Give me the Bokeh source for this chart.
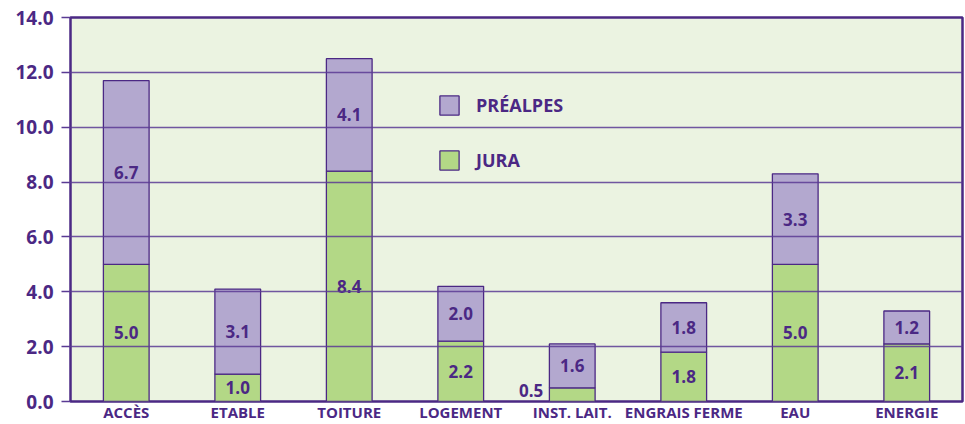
from bokeh.plotting import figure
from bokeh.models import (ColumnDataSource, Range1d, FactorRange, Legend, LegendItem,
                          PrintfTickFormatter, FixedTicker)
from bokeh.embed import file_html
from bokeh.resources import INLINE
from bokeh.core.properties import value

categories = ["Accès", "Etable", "Toiture", "Logement", "Inst. Lait.", "Engrais Ferme", "Eau", "Energie"]
tick_labels = ["ACCÈS", "ETABLE", "TOITURE", "LOGEMENT", "INST. LAIT.", "ENGRAIS FERME", "EAU", "ENERGIE"]
jura = [5.0, 1.0, 8.4, 2.2, 0.5, 1.8, 5.0, 2.1]
prealpes = [6.7, 3.1, 4.1, 2.0, 1.6, 1.8, 3.3, 1.2]
y_ticks = [0, 2, 4, 6, 8, 10, 12, 14]

PURPLE = "#4B2884"
GREEN = "#B3D886"
LAV = "#B3A8CF"
BG = "#EBF3E1"
FONT = "Open Sans"

totals = [j + p for j, p in zip(jura, prealpes)]
src = ColumnDataSource(dict(
    cat=tick_labels, jura=jura, prealpes=prealpes, total=totals,
    zero=[0] * len(categories),
    pre_mid=[j + p / 2 for j, p in zip(jura, prealpes)],
    pre_txt=["%.1f" % v for v in prealpes],
))

p = figure(width=965, height=424, x_range=FactorRange(*tick_labels), y_range=Range1d(0, 14),
           output_backend="svg", toolbar_location=None,
           min_border_left=70, min_border_right=3, min_border_top=17, min_border_bottom=21)
p.background_fill_color = BG
p.border_fill_color = "white"
p.outline_line_color = PURPLE
p.outline_line_width = 2.5

r_j = p.vbar(x="cat", bottom="zero", top="jura", width=0.41, source=src,
             fill_color=GREEN, line_color=PURPLE, line_width=1.3)
r_p = p.vbar(x="cat", bottom="jura", top="total", width=0.41, source=src,
             fill_color=LAV, line_color=PURPLE, line_width=1.3)

# value labels
big = ColumnDataSource(dict(cat=[c for c, j in zip(tick_labels, jura) if j >= 0.8],
                            y=[j / 2 for j in jura if j >= 0.8],
                            t=["%.1f" % j for j in jura if j >= 0.8]))
small = ColumnDataSource(dict(cat=[c for c, j in zip(tick_labels, jura) if j < 0.8],
                              y=[j / 2 for j in jura if j < 0.8],
                              t=["%.1f" % j for j in jura if j < 0.8]))
p.text(x="cat", y="y", text="t", source=big, text_align="center", text_baseline="middle",
       text_font=value(FONT), text_font_style="bold", text_font_size="17px", text_color=PURPLE)
p.text(x="cat", y="y", text="t", source=small, text_align="right", text_baseline="middle",
       x_offset=-29, y_offset=-4,
       text_font=value(FONT), text_font_style="bold", text_font_size="17px", text_color=PURPLE)
p.text(x="cat", y="pre_mid", text="pre_txt", source=src, text_align="center", text_baseline="middle",
       text_font=value(FONT), text_font_style="bold", text_font_size="17px", text_color=PURPLE)

# grid over bars
p.xgrid.grid_line_color = None
p.ygrid.ticker = FixedTicker(ticks=y_ticks)
p.ygrid.grid_line_color = "#5A3A94"
p.ygrid.grid_line_width = 1.5
p.ygrid.grid_line_alpha = 0.85
p.ygrid.level = "annotation"

# y axis
ya = p.yaxis[0]
ya.ticker = FixedTicker(ticks=y_ticks)
ya.formatter = PrintfTickFormatter(format="%.1f")
ya.axis_line_color = None
ya.major_tick_line_color = "#5A3A94"
ya.major_tick_line_width = 1.5
ya.major_tick_out = 9
ya.major_tick_in = 0
ya.minor_tick_line_color = None
ya.major_label_standoff = 8
ya.major_label_text_font = FONT
ya.major_label_text_font_style = "bold"
ya.major_label_text_font_size = "19px"
ya.major_label_text_color = PURPLE

# x axis
xa = p.xaxis[0]
xa.axis_line_color = None
xa.major_tick_line_color = None
xa.major_tick_out = 0
xa.major_tick_in = 0
xa.minor_tick_line_color = None
xa.major_label_standoff = 0
xa.major_label_text_font = FONT
xa.major_label_text_font_style = "bold"
xa.major_label_text_font_size = "15px"
xa.major_label_text_color = PURPLE

legend = Legend(items=[LegendItem(label="PRÉALPES", renderers=[r_p]),
                       LegendItem(label="JURA", renderers=[r_j])],
                location=(367, 229), orientation="vertical",
                glyph_width=24, glyph_height=24, spacing=31, label_standoff=15,
                padding=0, margin=0, background_fill_alpha=0, border_line_alpha=0,
                label_text_font=FONT, label_text_font_style="bold", label_text_font_size="18px",
                label_text_color=PURPLE, label_text_baseline="middle")
p.add_layout(legend, "center")

open("out.html", "w").write(file_html(p, INLINE))
